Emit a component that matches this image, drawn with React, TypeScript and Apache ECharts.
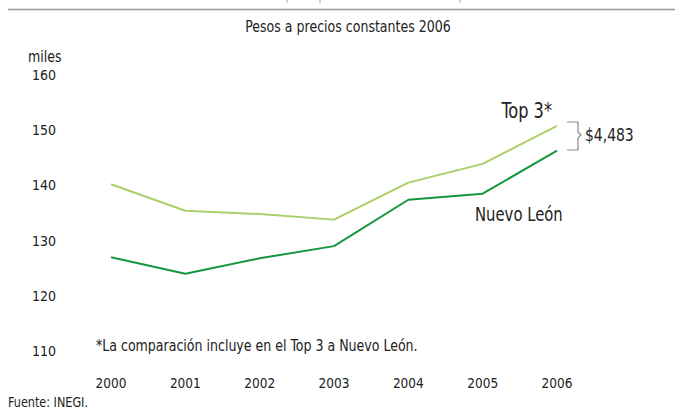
import React, { useEffect, useRef } from "react";
import * as echarts from "echarts";

const years = ["2000", "2001", "2002", "2003", "2004", "2005", "2006"];
const top3 = [140.2, 135.4, 134.8, 133.8, 140.5, 143.9, 150.8];
const nuevoLeon = [127.0, 124.0, 126.8, 129.0, 137.4, 138.5, 146.3];
const yTicks = [110, 120, 130, 140, 150, 160];

const FONT = "'Liberation Sans Narrow', 'DejaVu Sans Condensed', 'Roboto Condensed', sans-serif";
const TEXT = "#222";
const SX = 0.85;

function label(text: string, x: number, y: number, size: number, align: string) {
  return {
    type: "text",
    x,
    y,
    scaleX: SX,
    style: { text, fill: TEXT, fontSize: size / SX, fontFamily: FONT, align, verticalAlign: "middle" },
  };
}

export default function App() {
  const ref = useRef<HTMLDivElement>(null);
  useEffect(() => {
    if (!ref.current) return;
    const chart = echarts.init(ref.current, null, { renderer: "svg" });
    const gridLeft = 111, gridTop = 75, gridW = 446, gridH = 276;
    chart.setOption({
      animation: false,
      backgroundColor: "#fff",
      textStyle: { fontFamily: FONT },
      grid: { left: gridLeft, top: gridTop, width: gridW, height: gridH },
      xAxis: {
        type: "category",
        data: years,
        boundaryGap: false,
        axisLine: { show: false },
        axisTick: { show: false },
        splitLine: { show: false },
        axisLabel: { color: TEXT, fontSize: 13.5, fontFamily: FONT, margin: 25 },
      },
      yAxis: {
        type: "value",
        min: yTicks[0],
        max: yTicks[yTicks.length - 1],
        interval: 10,
        axisLine: { show: false },
        axisTick: { show: false },
        splitLine: { show: false },
        axisLabel: { color: TEXT, fontSize: 14, fontFamily: FONT, margin: 55 },
      },
      series: [
        {
          name: "Top 3*",
          type: "line",
          data: top3,
          symbol: "none",
          lineStyle: { color: "#a9d06c", width: 2 },
        },
        {
          name: "Nuevo León",
          type: "line",
          data: nuevoLeon,
          symbol: "none",
          lineStyle: { color: "#16973f", width: 2 },
        },
      ],
      graphic: [
        { type: "line", shape: { x1: 8, y1: 9.5, x2: 675, y2: 9.5 }, style: { stroke: "#9a9a9a", lineWidth: 1.5 } },
        { type: "line", shape: { x1: 287, y1: 0, x2: 287, y2: 3 }, style: { stroke: "#aaa", lineWidth: 1 } },
        { type: "line", shape: { x1: 320, y1: 0, x2: 320, y2: 3 }, style: { stroke: "#aaa", lineWidth: 1 } },
        { type: "line", shape: { x1: 460, y1: 0, x2: 460, y2: 3 }, style: { stroke: "#aaa", lineWidth: 1 } },
        label("Pesos a precios constantes 2006", 348, 27, 14, "center"),
        label("miles", 28, 57, 14, "left"),
        label("Top 3*", 552, 111, 18, "right"),
        label("Nuevo León", 475, 214, 16.5, "left"),
        {
          type: "polyline",
          shape: { points: [[567, 122], [578, 122], [578, 132], [581, 135], [578, 138], [578, 150], [567, 150]] },
          style: { stroke: "#8a8a8a", lineWidth: 1.2, fill: "none" },
        },
        label("$4,483", 585, 135, 15.5, "left"),
        label("*La comparación incluye en el Top 3 a Nuevo León.", 96, 346, 14, "left"),
        label("Fuente: INEGI.", 8, 402, 12.5, "left"),
      ],
    });
    return () => chart.dispose();
  }, []);
  return <div ref={ref} style={{ width: 675, height: 412, position: "absolute", left: 0, top: 0 }} />;
}
